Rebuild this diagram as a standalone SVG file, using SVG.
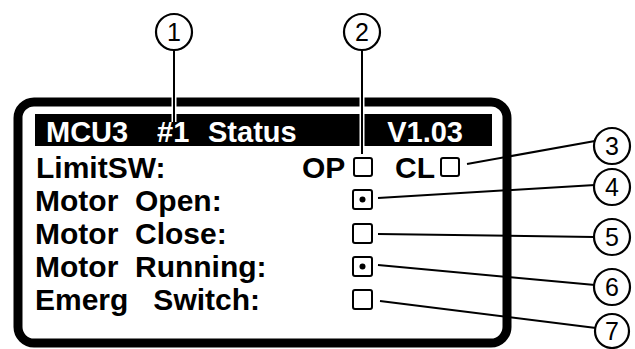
<svg xmlns="http://www.w3.org/2000/svg" width="635" height="349" viewBox="0 0 635 349">
<style>
.frame{fill:#fff;stroke:#000;stroke-width:9}
.hdr{font-family:"Liberation Sans",Arial,sans-serif;font-weight:bold;font-size:29px;fill:#fff}
.lbl{font-family:"Liberation Sans",Arial,sans-serif;font-weight:bold;font-size:30px;fill:#000}
.box{fill:#fff;stroke:#000;stroke-width:2}
.dot{fill:#000}
.callout circle{fill:#fff;stroke:#000;stroke-width:2.2}
.callout text{font-family:"Liberation Sans",Arial,sans-serif;font-size:25px;fill:#000;text-anchor:middle}
.lead{stroke:#000;stroke-width:2;fill:none}
.halo{stroke:#fff;stroke-width:5;fill:none}
</style>
<rect width="635" height="349" fill="#fff"/>
<g id="display">
<rect class="frame" x="18" y="102" width="489" height="241" rx="16"/>
<rect x="35" y="114" width="457" height="32" fill="#000"/>
<text class="hdr" y="142"><tspan x="46">MCU3</tspan><tspan x="157">#1</tspan><tspan x="208">Status</tspan><tspan x="463" text-anchor="end">V1.03</tspan></text>
</g>
<g id="row-limitsw">
<text class="lbl" x="36" y="178">LimitSW:</text>
<text class="lbl" x="302" y="178">OP</text>
<rect class="box" x="354" y="158" width="18" height="18" rx="2"/>
<text class="lbl" x="395" y="178">CL</text>
<rect class="box" x="441" y="158" width="18" height="18" rx="2"/>
</g>
<g id="row-open">
<text class="lbl" x="35" y="211" xml:space="preserve">Motor  Open:</text>
<rect class="box" x="353" y="190" width="19" height="19" rx="2"/>
<circle class="dot" cx="362.5" cy="199.5" r="3"/>
</g>
<g id="row-close">
<text class="lbl" x="35" y="244" xml:space="preserve">Motor  Close:</text>
<rect class="box" x="353" y="224" width="19" height="19" rx="2"/>
</g>
<g id="row-running">
<text class="lbl" x="35" y="277" xml:space="preserve">Motor  Running:</text>
<rect class="box" x="353" y="257" width="19" height="19" rx="2"/>
<circle class="dot" cx="362.5" cy="266.5" r="3"/>
</g>
<g id="row-emerg">
<text class="lbl" x="35" y="310" xml:space="preserve">Emerg   Switch:</text>
<rect class="box" x="353" y="290" width="19" height="19" rx="2"/>
</g>
<g id="connectors">
<line class="halo" x1="174" y1="50" x2="174" y2="122"/>
<line class="lead" x1="174" y1="50" x2="174" y2="122"/>
<line class="halo" x1="362" y1="50" x2="362" y2="154"/>
<line class="lead" x1="362" y1="50" x2="362" y2="154"/>
<line class="lead" x1="467" y1="164" x2="595" y2="141"/>
<line class="lead" x1="378" y1="198" x2="595" y2="185"/>
<line class="lead" x1="378" y1="234" x2="594" y2="237"/>
<line class="lead" x1="378" y1="265" x2="595" y2="285"/>
<line class="lead" x1="380" y1="301" x2="596" y2="328"/>
</g>
<g id="callout-1" class="callout"><circle cx="174" cy="32" r="18"/><text x="174" y="41">1</text></g>
<g id="callout-2" class="callout"><circle cx="362" cy="32" r="18"/><text x="362" y="41">2</text></g>
<g id="callout-3" class="callout"><circle cx="612" cy="146" r="18"/><text x="612" y="155">3</text></g>
<g id="callout-4" class="callout"><circle cx="612" cy="187" r="18"/><text x="612" y="196">4</text></g>
<g id="callout-5" class="callout"><circle cx="612" cy="237" r="18"/><text x="612" y="246">5</text></g>
<g id="callout-6" class="callout"><circle cx="612" cy="287" r="18"/><text x="612" y="296">6</text></g>
<g id="callout-7" class="callout"><circle cx="612" cy="331" r="17"/><text x="612" y="340">7</text></g>
</svg>
